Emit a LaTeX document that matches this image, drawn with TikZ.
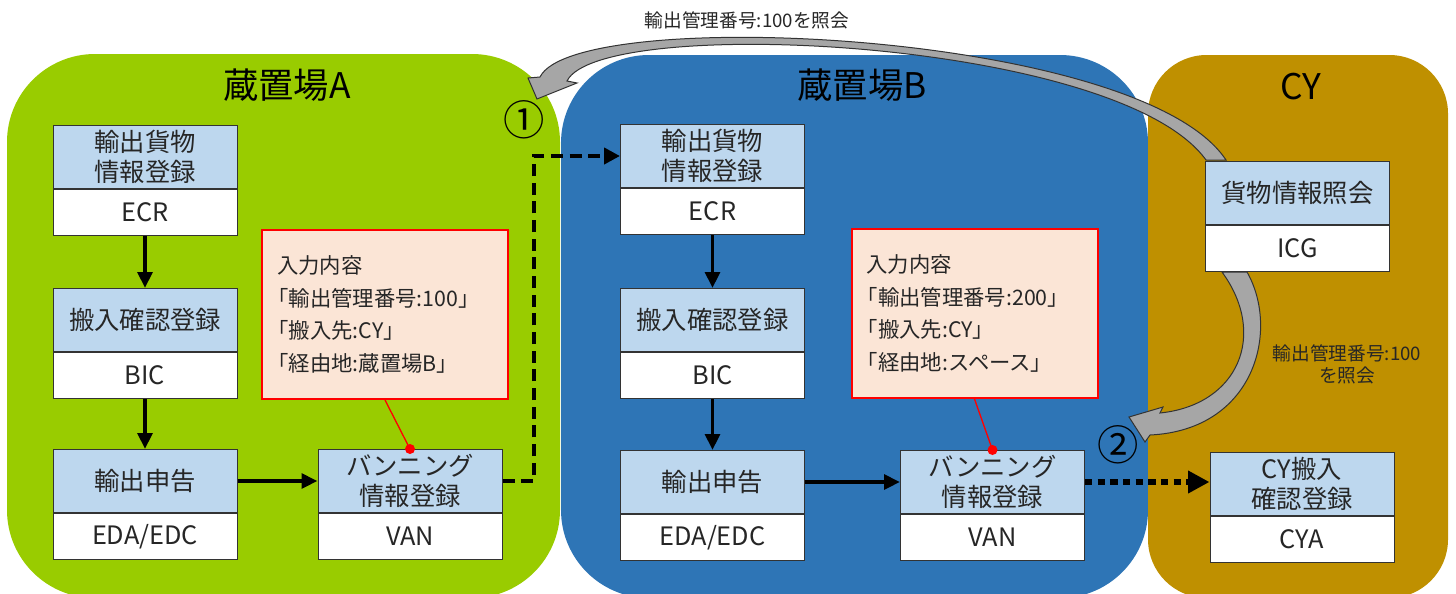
\documentclass[tikz,border=0pt]{standalone}
\usepackage{fontspec}
\setmainfont{Noto Sans CJK JP}
\usetikzlibrary{arrows.meta}

\definecolor{yardA}{RGB}{153,204,0}
\definecolor{yardB}{RGB}{46,117,182}
\definecolor{yardCY}{RGB}{191,144,0}
\definecolor{boxblue}{RGB}{189,215,238}
\definecolor{notefill}{RGB}{251,229,214}
\definecolor{arrowgray}{RGB}{166,166,166}

\newcommand\fntbox{\fontsize{19pt}{22.5pt}\selectfont}
\newcommand\fnttitle{\fontsize{26.5pt}{30pt}\selectfont}
\newcommand\fntnote{\fontsize{16pt}{24.4pt}\selectfont}
\newcommand\fntlabel{\fontsize{14pt}{16.5pt}\selectfont}
\newcommand\fntnum{\fontsize{31pt}{34pt}\selectfont}
\newcommand\lb{\hspace*{-0.45em}}

\tikzset{
  fnpart/.style={draw=black!80, line width=0.75pt, fill=boxblue, anchor=north,
    minimum width=138pt, minimum height=47.25pt, inner sep=0pt,
    align=center, font=\fntbox, text=black!85},
  codepart/.style={fnpart, fill=white, minimum height=34.5pt},
  note/.style={draw=red, line width=1.5pt, fill=notefill, inner xsep=11pt,
    minimum width=184.5pt, minimum height=126.75pt, text width=162pt,
    align=left, font=\fntnote, text=black!85},
  flow/.style={line width=2.8pt, -{Triangle[length=12pt,width=11pt]}},
  via/.style={line width=3pt, dash pattern=on 9pt off 5pt,
    -{Triangle[length=12pt,width=12pt]}},
  tocy/.style={line width=4.5pt, dash pattern=on 5.5pt off 4pt,
    -{Triangle[length=16pt,width=16pt]}},
  callout/.style={draw=red, line width=1pt},
  bigarrow/.style={fill=arrowgray, draw=black!80, line width=0.75pt},
  title/.style={font=\fnttitle},
  lbl/.style={font=\fntlabel, align=center, text=black!85},
}

\begin{document}
\begin{tikzpicture}[x=0.75pt, y=-0.75pt]
  \clip (0,0) rectangle (1456,593);

  % yards
  \fill[yardA, rounded corners=66pt] (7,54) rectangle (560,598);
  \fill[yardB, rounded corners=66pt] (561,55) rectangle (1148,598);
  \fill[yardCY, rounded corners=44pt] (1148,55) rectangle (1448,598);
  \node[title] (ttlA) at (287,85) {蔵置場A};
  \node[title] (ttlB) at (862,85) {蔵置場B};
  \node[title] (ttlCY) at (1301,87) {CY};

  % queries from CY
  \filldraw[bigarrow] (1226,160) .. controls (1140,30) and (575,5) .. (540,77)
    -- (528,78) -- (537,99) -- (577,83) -- (567,81)
    .. controls (600,14) and (1118,38) .. (1206,160) -- cycle;
  \filldraw[bigarrow] (1247,272) .. controls (1280,330) and (1255,430) .. (1150,435)
    -- (1145,442) -- (1129,417) -- (1163,407) -- (1160,413)
    .. controls (1238,405) and (1268,335) .. (1222,272) -- cycle;
  \node[lbl] (qryA) at (747,20) {輸出管理番号:100を照会};
  \node[lbl] (qryB) at (1347,364) {輸出管理番号:100\\を照会};

  % yard A
  \node[fnpart] (ecrA) at (145,125) {輸出貨物\\情報登録};
  \node[codepart] (ecrAcode) at (ecrA.south) {ECR};
  \node[fnpart] (bicA) at (145,288) {搬入確認登録};
  \node[codepart] (bicAcode) at (bicA.south) {BIC};
  \node[fnpart] (edaA) at (145,449) {輸出申告};
  \node[codepart] (edaAcode) at (edaA.south) {EDA/EDC};
  \node[fnpart] (vanA) at (410,449) {バンニング\\情報登録};
  \node[codepart] (vanAcode) at (vanA.south) {VAN};
  \node[note] (noteA) at (385,314.5) {入力内容\\\lb「輸出管理番号:100」\\\lb「搬入先:CY」\\\lb「経由地:蔵置場B」};

  % yard B
  \node[fnpart] (ecrB) at (712.5,124) {輸出貨物\\情報登録};
  \node[codepart] (ecrBcode) at (ecrB.south) {ECR};
  \node[fnpart] (bicB) at (712.5,288) {搬入確認登録};
  \node[codepart] (bicBcode) at (bicB.south) {BIC};
  \node[fnpart] (edaB) at (712.5,450) {輸出申告};
  \node[codepart] (edaBcode) at (edaB.south) {EDA/EDC};
  \node[fnpart] (vanB) at (992.5,450) {バンニング\\情報登録};
  \node[codepart] (vanBcode) at (vanB.south) {VAN};
  \node[note] (noteB) at (974.5,313.5) {入力内容\\\lb「輸出管理番号:200」\\\lb「搬入先:CY」\\\lb「経由地:スペース」};

  % CY
  \node[fnpart] (icg) at (1297.5,161) {貨物情報照会};
  \node[codepart] (icgcode) at (icg.south) {ICG};
  \node[fnpart] (cya) at (1302,452) {CY搬入\\確認登録};
  \node[codepart] (cyacode) at (cya.south) {CYA};

  % flows
  \draw[flow] (ecrAcode.south) -- (bicA.north);
  \draw[flow] (bicAcode.south) -- (edaA.north);
  \draw[flow] (edaA.east) -- (vanA.west);
  \draw[flow] (ecrBcode.south) -- (bicB.north);
  \draw[flow] (bicBcode.south) -- (edaB.north);
  \draw[flow] (edaB.east) -- (vanB.west);
  \draw[via] (vanA.east) -- ++(31,0) |- (ecrB.west);
  \draw[tocy] (vanB.east) -- (vanB.east -| cya.west);

  % callouts
  \draw[callout] (noteA.south) -- (vanA.north);
  \fill[red] (vanA.north) circle (3.75pt);
  \draw[callout] (noteB.south) -- (vanB.north);
  \fill[red] (vanB.north) circle (3.75pt);

  \node[font=\fntnum] (stepA) at (524,120) {①};
  \node[font=\fntnum] (stepB) at (1118,445) {②};
\end{tikzpicture}
\end{document}
